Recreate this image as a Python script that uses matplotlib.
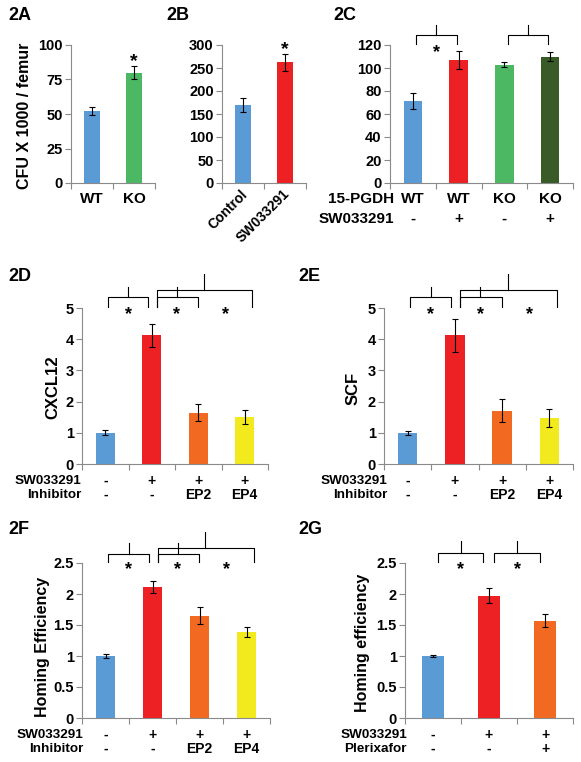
import numpy as np
import matplotlib
matplotlib.use('Agg')
import matplotlib.pyplot as plt
import matplotlib.transforms as mtransforms

plt.rcParams['font.family'] = ['Liberation Sans', 'DejaVu Sans']
plt.rcParams['font.weight'] = 'bold'

# ---- data ----
a_labels = ['WT', 'KO']
a_vals = [52, 80]
a_err = [3, 4.5]

b_labels = ['Control', 'SW033291']
b_vals = [170, 262]
b_err = [15, 18]

c_pgdh = ['WT', 'WT', 'KO', 'KO']
c_sw = ['-', '+', '-', '+']
c_vals = [71, 107, 103, 110]
c_err = [7, 7.5, 2, 4]

d_sw = ['-', '+', '+', '+']
d_inh = ['-', '-', 'EP2', 'EP4']
d_vals = [1.0, 4.12, 1.65, 1.5]
d_err = [0.08, 0.37, 0.26, 0.22]

e_vals = [1.0, 4.13, 1.71, 1.47]
e_err = [0.07, 0.53, 0.37, 0.29]

f_vals = [1.0, 2.11, 1.65, 1.38]
f_err = [0.04, 0.1, 0.14, 0.08]

g_sw = ['-', '+', '+']
g_plx = ['-', '-', '+']
g_vals = [1.0, 1.97, 1.57]
g_err = [0.02, 0.12, 0.1]

BLUE = '#5b9bd5'
RED = '#ed2024'
GREEN = '#4db863'
DGREEN = '#385b27'
ORANGE = '#f26a22'
YELLOW = '#f3ea1d'

W, H = 581, 762
fig = plt.figure(figsize=(W / 100, H / 100), dpi=100)


def px_axes(l, t, r, b):
    return fig.add_axes([l / W, 1 - b / H, (r - l) / W, (b - t) / H])


def style(ax, n, ymax, ystep):
    ax.set_xlim(-0.5, n - 0.5)
    ax.set_ylim(0, ymax)
    ticks = np.arange(0, ymax + ystep / 2, ystep)
    ax.set_yticks(ticks)
    ax.set_yticklabels(['%g' % t for t in ticks], fontsize=10.5, fontweight='bold')
    ax.set_xticks(np.arange(n + 1) - 0.5)
    ax.set_xticklabels([])
    for s in ['top', 'right']:
        ax.spines[s].set_visible(False)
    for s in ['left', 'bottom']:
        ax.spines[s].set_color('#8a8a8a')
        ax.spines[s].set_linewidth(0.8)
    ax.tick_params(axis='both', direction='out', length=4, width=0.8, color='#8a8a8a', pad=2)


def bars(ax, vals, errs, colors, width=0.4):
    x = np.arange(len(vals))
    ax.bar(x, vals, width, color=colors, yerr=errs,
           error_kw={'elinewidth': 0.8, 'ecolor': 'black', 'capsize': 2.5, 'capthick': 0.8})


def put(ax, x, ypx, s, fs=10, **kw):
    tr = mtransforms.blended_transform_factory(ax.transData, fig.transFigure)
    ax.text(x, 1 - ypx / H, s, transform=tr, fontsize=fs, fontweight='bold',
            ha=kw.pop('ha', 'center'), va=kw.pop('va', 'center'), **kw)


def ftext(xpx, ypx, s, fs=10, **kw):
    fig.text(xpx / W, 1 - ypx / H, s, fontsize=fs, fontweight='bold',
             ha=kw.pop('ha', 'right'), va=kw.pop('va', 'center'), **kw)


def bracket(ax, x0, x1, xc, yline, ypeak, yend=1.005):
    tr = mtransforms.blended_transform_factory(ax.transData, ax.transAxes)
    ax.plot([x0, x0, x1, x1], [yend, yline, yline, yend], color='black', lw=0.8,
            transform=tr, clip_on=False)
    ax.plot([xc, xc], [yline, ypeak], color='black', lw=0.8, transform=tr, clip_on=False)


def star(ax, x, y, fs=13):
    tr = mtransforms.blended_transform_factory(ax.transData, ax.transAxes)
    ax.annotate('*', xy=(x, y), xycoords=tr, xytext=(0, -0.57 * fs), textcoords='offset points',
                ha='center', va='baseline', fontsize=fs, fontweight='bold', annotation_clip=False)


# ---- 2A ----
ax = px_axes(71, 45, 155, 183)
style(ax, 2, 100, 25)
bars(ax, a_vals, a_err, [BLUE, GREEN])
for i, lab in enumerate(a_labels):
    put(ax, i, 199, lab, fs=11)
ax.annotate('*', xy=(1, a_vals[1] + a_err[1]), xytext=(0, 0), textcoords='offset points',
            ha='center', va='baseline', fontsize=14, fontweight='bold')
fig.text(25 / W, 1 - 116 / H, 'CFU X 1000 / femur', rotation=90, fontsize=11.5,
         fontweight='bold', ha='center', va='center')
ftext(8, 15, '2A', fs=13, ha='left')

# ---- 2B ----
ax = px_axes(222, 45, 306, 183)
style(ax, 2, 300, 50)
bars(ax, b_vals, b_err, [BLUE, RED], width=0.38)
for i, lab in enumerate(b_labels):
    put(ax, i + 0.05, 192, lab, fs=10, rotation=45, rotation_mode='anchor', ha='right', va='center')
ax.annotate('*', xy=(1, b_vals[1] + b_err[1]), xytext=(0, 0), textcoords='offset points',
            ha='center', va='baseline', fontsize=14, fontweight='bold')
ftext(166, 15, '2B', fs=13, ha='left')

# ---- 2C ----
ax = px_axes(390, 45, 573, 183)
style(ax, 4, 120, 20)
bars(ax, c_vals, c_err, [BLUE, RED, GREEN, DGREEN])
bracket(ax, 0.07, 0.96, 0.51, 1.072, 1.145)
bracket(ax, 2.07, 2.96, 2.51, 1.072, 1.145)
star(ax, 0.51, 0.985)
ftext(394, 199, '15-PGDH', fs=11)
ftext(394, 219, 'SW033291', fs=11)
for i in range(4):
    put(ax, i, 199, c_pgdh[i], fs=11)
    put(ax, i, 219, c_sw[i], fs=11)
ftext(333, 15, '2C', fs=13, ha='left')


def four_panel(ax, vals, errs, fline=1.068, fpeak=1.135, bline=1.118, bpeak=1.218):
    style(ax, 4, 5 if max(vals) > 3 else 2.5, 1 if max(vals) > 3 else 0.5)
    bars(ax, vals, errs, [BLUE, RED, ORANGE, YELLOW], width=0.41)
    bracket(ax, 0.05, 0.92, 0.49, fline, fpeak)
    bracket(ax, 1.11, 1.99, 1.54, fline, fpeak)
    bracket(ax, 1.11, 3.16, 2.12, bline, bpeak)
    for x in [0.49, 1.54, 2.58]:
        star(ax, x, 0.995)


# ---- 2D ----
ax = px_axes(82, 308, 268, 464)
four_panel(ax, d_vals, d_err)
ftext(81, 481, 'SW033291', fs=9.7)
ftext(81, 495, 'Inhibitor', fs=9.7)
for i in range(4):
    put(ax, i, 481, d_sw[i], fs=10)
    put(ax, i, 495, d_inh[i], fs=10)
fig.text(53 / W, 1 - 387 / H, 'CXCL12', rotation=90, fontsize=12, fontweight='bold',
         ha='center', va='center')
ftext(8, 277, '2D', fs=13, ha='left')

# ---- 2E ----
ax = px_axes(384, 308, 573, 464)
four_panel(ax, e_vals, e_err)
ftext(387, 481, 'SW033291', fs=9.7)
ftext(387, 495, 'Inhibitor', fs=9.7)
for i in range(4):
    put(ax, i, 481, d_sw[i], fs=10)
    put(ax, i, 495, d_inh[i], fs=10)
fig.text(353 / W, 1 - 388 / H, 'SCF', rotation=90, fontsize=12, fontweight='bold',
         ha='center', va='center')
ftext(298, 277, '2E', fs=13, ha='left')

# ---- 2F ----
ax = px_axes(82, 563, 270, 718)
four_panel(ax, f_vals, f_err, fline=1.055, fpeak=1.13, bline=1.1, bpeak=1.2)
ftext(83, 735, 'SW033291', fs=9.7)
ftext(83, 749, 'Inhibitor', fs=9.7)
for i in range(4):
    put(ax, i, 735, d_sw[i], fs=10)
    put(ax, i, 749, d_inh[i], fs=10)
fig.text(43 / W, 1 - 647 / H, 'Homing Efficiency', rotation=90, fontsize=11.5,
         fontweight='bold', ha='center', va='center')
ftext(8, 529, '2F', fs=13, ha='left')

# ---- 2G ----
ax = px_axes(405, 563, 573, 718)
style(ax, 3, 2.5, 0.5)
bars(ax, g_vals, g_err, [BLUE, RED, ORANGE], width=0.4)
bracket(ax, 0.09, 0.89, 0.5, 1.067, 1.14)
bracket(ax, 1.09, 1.91, 1.5, 1.067, 1.14)
star(ax, 0.5, 0.995)
star(ax, 1.5, 0.995)
ftext(407, 735, 'SW033291', fs=9.7)
ftext(407, 749, 'Plerixafor', fs=9.7)
for i in range(3):
    put(ax, i, 735, g_sw[i], fs=10)
    put(ax, i, 749, g_plx[i], fs=10)
fig.text(362 / W, 1 - 643 / H, 'Homing efficiency', rotation=90, fontsize=11.5,
         fontweight='bold', ha='center', va='center')
ftext(298, 529, '2G', fs=13, ha='left')

fig.savefig('out.png', dpi=100)
